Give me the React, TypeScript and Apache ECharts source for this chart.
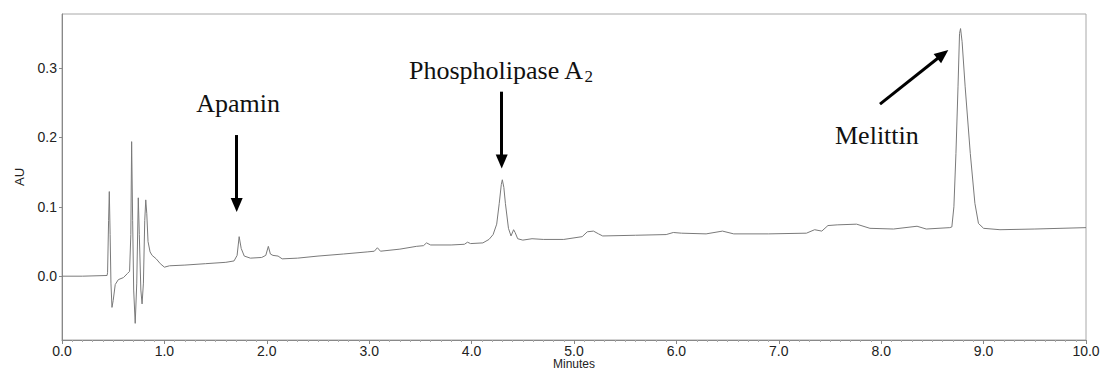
import React, { useEffect, useRef } from "react";
import * as echarts from "echarts";

// chromatogram trace: [minutes, AU]
const trace: [number, number][] = [
  [0.0, 0.0], [0.2, 0.0], [0.44, 0.001], [0.445, 0.005], [0.455, 0.08], [0.462, 0.122],
  [0.47, 0.06], [0.478, -0.01], [0.488, -0.045], [0.5, -0.035], [0.52, -0.012], [0.55, -0.005],
  [0.6, -0.002], [0.64, 0.004], [0.66, 0.007], [0.672, 0.06], [0.68, 0.194], [0.69, 0.08],
  [0.7, -0.02], [0.715, -0.068], [0.73, -0.01], [0.745, 0.113], [0.755, 0.06], [0.77, -0.02],
  [0.782, -0.04], [0.795, -0.01], [0.808, 0.08], [0.818, 0.11], [0.828, 0.09], [0.84, 0.05],
  [0.86, 0.035], [0.88, 0.03], [0.92, 0.025], [0.96, 0.018], [1.0, 0.013], [1.05, 0.015],
  [1.2, 0.016], [1.4, 0.018], [1.6, 0.02], [1.68, 0.022], [1.71, 0.03], [1.73, 0.057],
  [1.75, 0.04], [1.78, 0.029], [1.84, 0.026], [1.95, 0.027], [1.99, 0.03], [2.015, 0.043],
  [2.035, 0.032], [2.06, 0.03], [2.11, 0.029], [2.15, 0.025], [2.3, 0.026], [2.5, 0.029],
  [2.75, 0.032], [2.98, 0.035], [3.05, 0.036], [3.08, 0.041], [3.11, 0.036], [3.3, 0.039],
  [3.46, 0.043], [3.53, 0.044], [3.56, 0.048], [3.6, 0.045], [3.8, 0.045], [3.93, 0.046],
  [3.96, 0.049], [3.99, 0.047], [4.11, 0.048], [4.17, 0.053], [4.21, 0.06], [4.245, 0.075],
  [4.27, 0.105], [4.29, 0.132], [4.3, 0.139], [4.315, 0.128], [4.33, 0.105], [4.36, 0.069],
  [4.385, 0.058], [4.41, 0.067], [4.425, 0.063], [4.45, 0.054], [4.5, 0.052], [4.59, 0.054],
  [4.7, 0.053], [4.9, 0.053], [5.08, 0.057], [5.13, 0.064], [5.19, 0.065], [5.24, 0.061],
  [5.28, 0.058], [5.6, 0.059], [5.9, 0.06], [5.97, 0.063], [6.05, 0.062], [6.29, 0.061],
  [6.45, 0.065], [6.56, 0.061], [6.9, 0.061], [7.27, 0.062], [7.35, 0.067], [7.42, 0.065],
  [7.48, 0.073], [7.57, 0.074], [7.76, 0.075], [7.89, 0.069], [8.12, 0.068], [8.35, 0.072],
  [8.44, 0.068], [8.67, 0.07], [8.69, 0.071], [8.71, 0.1], [8.73, 0.177], [8.75, 0.273],
  [8.765, 0.35], [8.775, 0.357], [8.79, 0.338], [8.82, 0.273], [8.87, 0.177], [8.915, 0.105],
  [8.95, 0.076], [9.0, 0.069], [9.16, 0.067], [9.5, 0.068], [10.0, 0.07],
];

const yTickValues = [0, 0.1, 0.2, 0.3];

// arrows: [fromMinutes, fromAU, toMinutes, toAU]
const arrows: [number, number, number, number][] = [
  [1.706, 0.2035, 1.706, 0.1025],
  [4.294, 0.266, 4.294, 0.1655],
  [7.988, 0.248, 8.602, 0.32],
];

export default function App() {
  const ref = useRef<HTMLDivElement>(null);
  useEffect(() => {
    if (!ref.current) return;
    const chart = echarts.init(ref.current, undefined, { renderer: "svg" });
    const serif = "'Liberation Serif', 'Times New Roman', serif";
    const sans = "'Liberation Sans', Arial, sans-serif";
    chart.setOption({
      animation: false,
      backgroundColor: "#fff",
      grid: {
        left: 62, right: 21, top: 14, bottom: 34,
        outerBoundsMode: "none",
        containLabel: false,
        show: true, borderColor: "#a8a8a8", borderWidth: 1,
      },
      xAxis: {
        type: "value",
        min: 0, max: 10, interval: 1,
        axisLine: { show: true, onZero: false, lineStyle: { color: "#888" } },
        axisTick: { show: true, length: 4, lineStyle: { color: "#888" } },
        minorTick: { show: true, splitNumber: 10, length: 2, lineStyle: { color: "#aaa" } },
        splitLine: { show: false },
        axisLabel: {
          formatter: (v: number) => v.toFixed(1),
          fontFamily: sans,
          fontSize: 14, color: "#222", margin: 4,
        },
      },
      yAxis: {
        type: "value",
        min: -0.092, max: 0.378,
        name: "AU",
        nameLocation: "middle",
        nameGap: 36,
        nameRotate: 90,
        nameTextStyle: { fontFamily: sans, fontSize: 13, color: "#222" },
        axisLine: { show: true, onZero: false, lineStyle: { color: "#888" } },
        axisTick: { show: true, length: 3, customValues: yTickValues, lineStyle: { color: "#888" } },
        splitLine: { show: false },
        axisLabel: {
          customValues: yTickValues,
          formatter: (v: number) => v.toFixed(1),
          fontFamily: sans,
          fontSize: 14, color: "#222", margin: 5,
        },
      },
      series: [
        {
          type: "line",
          data: trace,
          showSymbol: false,
          symbol: "none",
          lineStyle: { color: "#7a7a7a", width: 1 },
          markLine: {
            silent: true,
            symbol: ["none", "triangle"],
            symbolSize: [12, 14],
            label: { show: false },
            lineStyle: { color: "#000", width: 3, type: "solid" },
            itemStyle: { color: "#000" },
            emphasis: { disabled: true },
            data: arrows.map(([x1, y1, x2, y2]) => [
              { coord: [x1, y1] },
              { coord: [x2, y2] },
            ]),
          },
        },
      ],
      graphic: [
        {
          type: "text", x: 574, y: 364,
          style: { text: "Minutes", fontFamily: sans, fontSize: 12, fill: "#222", textAlign: "center", textVerticalAlign: "middle" },
        },
        {
          type: "text", x: 238, y: 103,
          style: { text: "Apamin", fontFamily: serif, fontSize: 26, fill: "#111", textAlign: "center", textVerticalAlign: "middle" },
        },
        {
          type: "text", x: 409, y: 70,
          style: {
            text: "{a|Phospholipase A}{s|2}",
            textAlign: "left", textVerticalAlign: "middle",
            rich: {
              a: { fontFamily: serif, fontSize: 26, fill: "#111" },
              s: { fontFamily: serif, fontSize: 17, fill: "#111", padding: [12, 0, 0, 0] },
            },
          },
        },
        {
          type: "text", x: 835, y: 135,
          style: { text: "Melittin", fontFamily: serif, fontSize: 26, fill: "#111", textAlign: "left", textVerticalAlign: "middle" },
        },
      ],
    });
    return () => chart.dispose();
  }, []);
  return (
    <div
      ref={ref}
      style={{ position: "absolute", left: 0, top: 0, width: 1107, height: 374 }}
    />
  );
}
